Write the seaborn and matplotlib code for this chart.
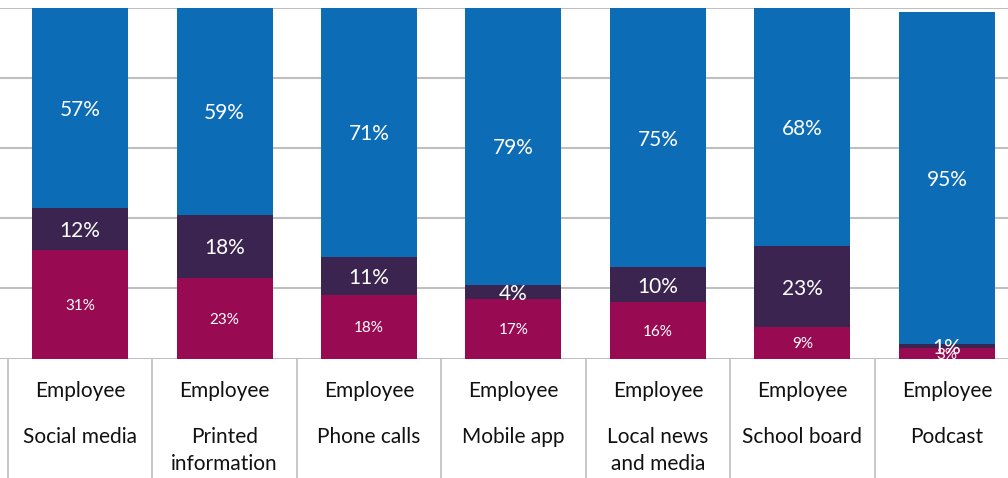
import matplotlib
matplotlib.use("Agg")
import matplotlib.pyplot as plt
import matplotlib.transforms as mtransforms
import numpy as np
import pandas as pd
import seaborn as sns

# Survey channels and the share of each response level (percent)
channels = ["Social media", "Printed\ninformation", "Phone calls", "Mobile app",
            "Local news\nand media", "School board", "Podcast"]
group_label = "Employee"
low = [31, 23, 18, 17, 16, 9, 3]
mid = [12, 18, 11, 4, 10, 23, 1]
high = [57, 59, 71, 79, 75, 68, 95]

C_LOW = "#980B52"
C_MID = "#3B2550"
C_HIGH = "#0D6CB6"
GRID = "#BFBFBF"

df = pd.DataFrame({"channel": channels, "low": low, "mid": mid, "high": high})
df["low_mid"] = df["low"] + df["mid"]
df["total"] = df["low_mid"] + df["high"]

sns.set_theme(style="white")
plt.rcParams["font.family"] = ["Lato", "DejaVu Sans"]

W, H = 1008, 478
fig = plt.figure(figsize=(W / 100, H / 100), dpi=100)

# Axes geometry in pixels: category 0 centred at x=80, 144.5 px per category
step = 144.5
x_left = -80 / step
x_right = 6.5
ax_w_px = (x_right - x_left) * step
y_top_px, y_base_px = 8, 358.5
ax = fig.add_axes([0, 1 - y_base_px / H, ax_w_px / W, (y_base_px - y_top_px) / H])

# Stacked bars drawn as cumulative totals, front layer last
bw = 96 / step
for col, c in [("total", C_HIGH), ("low_mid", C_MID), ("low", C_LOW)]:
    sns.barplot(data=df, x="channel", y=col, color=c, width=bw,
                saturation=1, ax=ax, zorder=2, linewidth=0, edgecolor="none")

ax.set_xlim(x_left, x_right)
ax.set_ylim(0, 100)
ax.set_yticks(np.arange(0, 101, 20))
ax.set_yticklabels([])
ax.set_xticks([])
ax.set_xlabel("")
ax.set_ylabel("")
ax.tick_params(length=0)
ax.yaxis.grid(True, color=GRID, linewidth=1.5, zorder=0)
ax.set_axisbelow(True)
for s in ax.spines.values():
    s.set_visible(False)

# Segment value labels
for i, r in df.iterrows():
    ax.text(i, r["low"] / 2, f"{r['low']}%", ha="center", va="center_baseline",
            color="white", fontsize=11, zorder=5)
    ax.text(i, r["low"] + r["mid"] / 2, f"{r['mid']}%", ha="center",
            va="center_baseline", color="white", fontsize=15, zorder=5)
    top = min(r["total"], 100)
    ax.text(i, r["low_mid"] + (top - r["low_mid"]) / 2, f"{r['high']}%",
            ha="center", va="center_baseline", color="white", fontsize=15, zorder=5)

# Two-level category axis below the plot
tr = mtransforms.blended_transform_factory(ax.transData, fig.transFigure)
for i, name in enumerate(channels):
    ax.text(i, 1 - 391 / H, group_label, transform=tr, ha="center", va="center",
            fontsize=15, color="#111111", clip_on=False)
    for j, line in enumerate(name.split("\n")):
        ax.text(i, 1 - (437 + 27 * j) / H, line, transform=tr, ha="center",
                va="center", fontsize=15, color="#111111", clip_on=False)
for k in range(len(channels) + 1):
    ax.plot([k - 0.5, k - 0.5], [1 - y_base_px / H, 0], transform=tr,
            color=GRID, linewidth=1.2, clip_on=False)

fig.savefig("out.png", dpi=100)
